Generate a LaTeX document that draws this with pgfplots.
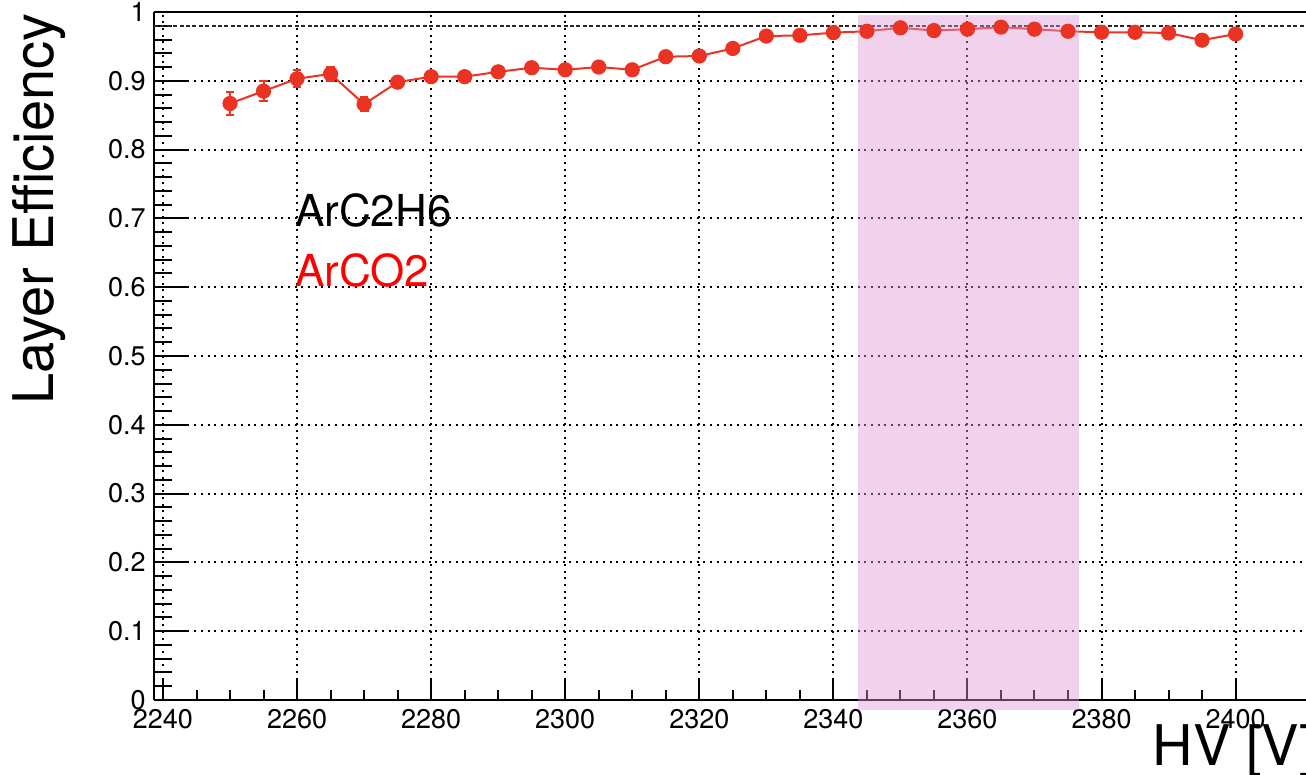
\documentclass[border=0pt]{standalone}
\usepackage{fontspec}
\setmainfont{TeX Gyre Heros}
\usepackage{pgfplots}
\usepackage{pgfplotstable}
\pgfplotsset{compat=1.18}
\definecolor{dred}{RGB}{234,51,35}
\definecolor{bandc}{RGB}{222,150,212}

\pgfplotstableread{
x y e
2250 0.867 0.017
2255 0.885 0.0145
2260 0.903 0.012
2265 0.910 0.010
2270 0.866 0.010
2275 0.898 0.006
2280 0.906 0.006
2285 0.906 0.006
2290 0.913 0.006
2295 0.919 0.006
2300 0.916 0.006
2305 0.920 0.006
2310 0.916 0.006
2315 0.935 0.006
2320 0.936 0.006
2325 0.947 0.006
2330 0.965 0.005
2335 0.966 0.005
2340 0.970 0.005
2345 0.972 0.005
2350 0.977 0.005
2355 0.973 0.005
2360 0.975 0.005
2365 0.978 0.005
2370 0.975 0.005
2375 0.972 0.005
2380 0.9705 0.005
2385 0.9705 0.005
2390 0.9695 0.005
2395 0.959 0.005
2400 0.968 0.005
}\effdata

\begin{document}
\begin{tikzpicture}
\begin{axis}[
  width=576pt, height=344pt, scale only axis,
  xmin=2238.66, xmax=2410.5, ymin=0, ymax=1,
  axis x line*=bottom, axis y line*=left,
  axis line style={line width=1pt, black},
  xtick={2240,2260,2280,2300,2320,2340,2360,2380,2400},
  minor x tick num=3,
  ytick={0,0.1,0.2,0.3,0.4,0.5,0.6,0.7,0.8,0.9,1},
  yticklabels={0,0.1,0.2,0.3,0.4,0.5,0.6,0.7,0.8,0.9,1},
  minor y tick num=4,
  tick align=inside,
  tick style={line width=1pt, black},
  major tick length=10pt, minor tick length=5pt,
  every major y tick/.append style={/pgfplots/major tick length=17pt},
  every minor y tick/.append style={/pgfplots/minor tick length=9pt},
  grid=major,
  major grid style={black, line width=1pt, dash pattern=on 1pt off 2.35pt},
  /pgf/number format/1000 sep={},
  /pgf/number format/assume math mode=true,
  tick label style={font=\fontsize{13.5}{16}\selectfont},
  xticklabel style={anchor=north, inner sep=0pt, yshift=-4.5pt},
  yticklabel style={anchor=east, inner sep=0pt, xshift=-4pt},
  clip=false,
]
\coordinate (bl) at (rel axis cs:0,0);
\coordinate (tr) at (rel axis cs:1,1);
\addplot[dred, line width=1pt, mark=*, mark size=3.3pt,
  mark options={solid, fill=dred, draw=dred},
  error bars/.cd, y dir=both, y explicit,
  error bar style={line width=1pt, dred},
  error mark options={rotate=90, mark size=2.2pt, line width=1pt, dred}]
  table[x=x, y=y, y error=e] {\effdata};
\addplot[black!85, line width=0.8pt, dash pattern=on 2pt off 1.2pt]
  coordinates {(2238.66,0.98) (2410.5,0.98)};
\addplot[draw=none, fill=bandc, fill opacity=0.43]
  coordinates {(2343.7,-0.0145) (2376.7,-0.0145) (2376.7,0.996) (2343.7,0.996)};
\draw[line width=1pt, black] (rel axis cs:0,1) -- (rel axis cs:1,1);
\node[anchor=base west, inner sep=0pt, font=\fontsize{22}{26}\selectfont] at (axis cs:2259.66,0.688) {ArC2H6};
\node[anchor=base west, inner sep=0pt, font=\fontsize{22}{26}\selectfont, text=red] at (axis cs:2259.66,0.6017) {ArCO2};
\node[anchor=base west, inner sep=0pt, font=\fontsize{28}{34}\selectfont] at (axis cs:2387.6,-0.0945) {HV [V]};
\node[rotate=90, anchor=east, inner sep=0pt, font=\fontsize{28}{34}\selectfont] at (axis cs:2221.45,0.9985) {Layer Efficiency};
\end{axis}
\pgfresetboundingbox
\useasboundingbox ([shift={(-77pt,-37.5pt)}]bl) rectangle ([shift={(0pt,6pt)}]tr);
\end{tikzpicture}
\end{document}
